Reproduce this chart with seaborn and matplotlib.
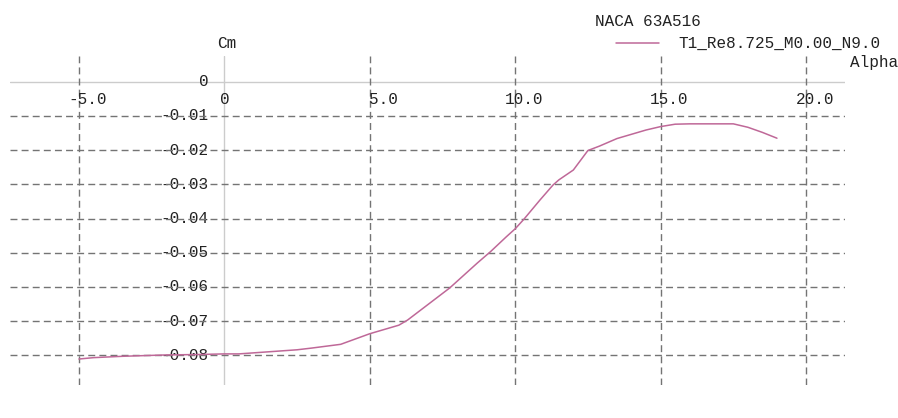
import matplotlib
matplotlib.use("Agg")
import matplotlib.pyplot as plt
import matplotlib.transforms as mtransforms
import seaborn as sns
import pandas as pd

# Polar data (NACA 63A516, Cm vs Alpha)
alpha = [-5.0, -4.5, -3.5, -2.0, -1.0, 0.0, 0.5, 1.5, 2.5, 3.0, 4.0, 5.0,
         6.0, 6.3, 7.75, 8.7, 9.15, 9.7, 10.0, 10.3, 10.85, 11.3, 11.5,
         12.0, 12.5, 12.9, 13.5, 14.5, 15.0, 15.5, 16.0, 17.0, 17.5, 18.0,
         18.5, 19.0]
cm = [-0.0811, -0.0807, -0.0803, -0.0799, -0.0798, -0.0796, -0.0796, -0.0790,
      -0.0784, -0.0779, -0.0768, -0.0737, -0.0712, -0.0697, -0.0603, -0.0530,
      -0.0497, -0.0453, -0.0430, -0.0402, -0.0346, -0.0302, -0.0287, -0.0258,
      -0.0201, -0.0188, -0.0166, -0.0141, -0.0131, -0.0124, -0.0123, -0.0123,
      -0.0123, -0.0133, -0.0148, -0.0165]

x_ticks = [-5.0, 0.0, 5.0, 10.0, 15.0, 20.0]
x_labels = ["-5.0", "0", "5.0", "10.0", "15.0", "20.0"]
y_ticks = [0.0, -0.01, -0.02, -0.03, -0.04, -0.05, -0.06, -0.07, -0.08]
y_labels = ["0", "-0.01", "-0.02", "-0.03", "-0.04", "-0.05", "-0.06", "-0.07", "-0.08"]

title = "NACA 63A516"
series_name = "T1_Re8.725_M0.00_N9.0"

sns.set_style("white")
plt.rcParams["font.family"] = ["Liberation Mono", "DejaVu Sans Mono"]
plt.rcParams["axes.unicode_minus"] = False

W, H = 898, 418
fig = plt.figure(figsize=(W / 100, H / 100), dpi=100)
ax = fig.add_axes([10 / W, 1 - 385 / H, 835 / W, 329 / H])
ax.set_xlim(-7.37, 21.34)
ax.set_ylim(-0.0887, 0.00755)
for s in ax.spines.values():
    s.set_visible(False)
ax.set_xticks([])
ax.set_yticks([])

grid_color = "#747474"
zero_color = "#cccccc"
curve_color = "#bf6898"
fs = 11.5

# dashed grid
for xv in x_ticks:
    if xv != 0:
        ax.axvline(xv, color=grid_color, lw=1, ls=(0, (5, 3)), zorder=1)
for yv in y_ticks:
    if yv != 0:
        ax.axhline(yv, color=grid_color, lw=1, ls=(0, (5, 3)), zorder=1)
# zero axes
ax.axvline(0, color=zero_color, lw=1, zorder=0.5)
ax.axhline(0, color=zero_color, lw=1, zorder=0.5)

df = pd.DataFrame({"Alpha": alpha, "Cm": cm})
sns.lineplot(data=df, x="Alpha", y="Cm", color=curve_color, lw=1.1,
             sort=False, ax=ax, zorder=3)
ax.set_xlabel("")
ax.set_ylabel("")

# x tick labels under the Cm=0 line
for xv, lab in zip(x_ticks, x_labels):
    if lab == "0":
        off = mtransforms.offset_copy(ax.transData, fig=fig, x=0, y=-18, units="dots")
        ax.text(xv, 0, lab, ha="center", va="center", fontsize=fs, color="#222222",
                transform=off)
    else:
        off = mtransforms.offset_copy(ax.transData, fig=fig, x=28, y=-18, units="dots")
        ax.text(xv, 0, lab, ha="right", va="center", fontsize=fs, color="#222222",
                transform=off)

# y tick labels left of the Alpha=0 line
off_y = mtransforms.offset_copy(ax.transData, fig=fig, x=-16, y=0, units="dots")
for yv, lab in zip(y_ticks, y_labels):
    ax.text(0, yv, lab, ha="right", va="center", fontsize=fs, color="#222222",
            transform=off_y, zorder=0.8)

# titles and legend
fig.text(595 / W, 1 - 22 / H, title, ha="left", va="center", fontsize=fs, color="#222222")
fig.text(217 / W, 1 - 44 / H, "Cm", ha="left", va="center", fontsize=fs, color="#222222")
fig.text(850 / W, 1 - 63 / H, "Alpha", ha="left", va="center", fontsize=fs, color="#222222")
fig.lines.append(plt.Line2D([616 / W, 659 / W], [1 - 43 / H, 1 - 43 / H],
                            transform=fig.transFigure, color=curve_color, lw=1.1))
fig.text(678 / W, 1 - 43 / H, series_name, ha="left", va="center", fontsize=fs,
         color="#222222")

fig.savefig("out.png", dpi=100)
